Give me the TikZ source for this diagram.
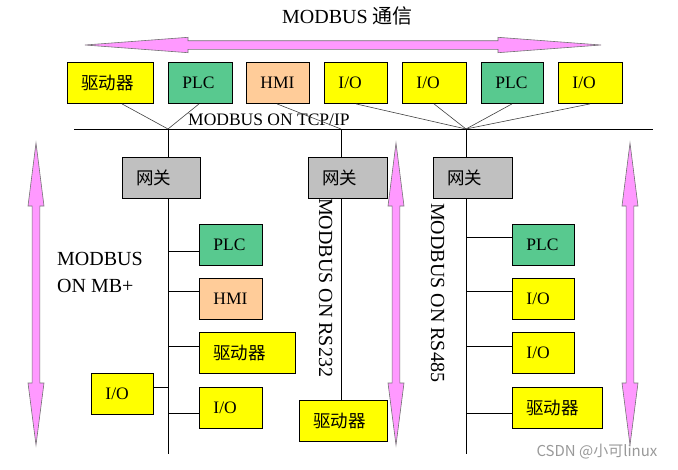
\documentclass[tikz,border=0pt]{standalone}
\usepackage{fontspec}
\setmainfont{Liberation Serif}
\newfontfamily\cjk{Noto Sans CJK SC}
\usetikzlibrary{calc}
\definecolor{ylw}{HTML}{FFFF00}
\definecolor{grn}{HTML}{58C98F}
\definecolor{pch}{HTML}{FFCC99}
\definecolor{gry}{HTML}{C0C0C0}
\definecolor{pnk}{HTML}{FF99FF}
\newcommand\myfs[1]{\fontsize{#1}{#1}\selectfont}
\begin{document}
\begin{tikzpicture}[x=1pt,y=-1pt,
  bx/.style={draw, line width=0.9pt, anchor=north west, inner xsep=14pt, inner ysep=0pt,
    minimum height=41pt, align=left, font=\myfs{17.5}},
  ln/.style={line width=0.9pt},
  diag/.style={line width=0.6pt, draw=black!75},
  arr/.style={fill=pnk, draw=black!55, line width=0.6pt, line join=miter},
  lbl/.style={inner sep=0pt, font=\myfs{20}}]
\useasboundingbox (0,0) rectangle (678,469);

% top double arrow
\draw[arr] (85,45) -- (188,37.3) -- (188,40.7) -- (498,40.7) -- (498,37.3) -- (601,45)
  -- (498,52.7) -- (498,49.3) -- (188,49.3) -- (188,52.7) -- cycle;
% vertical double arrows
\foreach \x in {36,396,630}{
  \draw[arr] (\x,143) -- (\x+8,206) -- (\x+3.9,206) -- (\x+3.9,383) -- (\x+8,383) -- (\x,445)
    -- (\x-8,383) -- (\x-3.9,383) -- (\x-3.9,206) -- (\x-8,206) -- cycle;
}

% labels
\node[lbl, anchor=base] (title) at (347.5,23.3) {MODBUS {\cjk 通信}};
\node[inner sep=0pt, font=\myfs{17.5}, anchor=base west] (tcp) at (188,125) {MODBUS ON TCP/IP};
\node[lbl, anchor=base west] (mb1) at (57,265) {MODBUS};
\node[lbl, anchor=base west] (mb2) at (57,292) {ON MB+};
\node[lbl, rotate=-90, anchor=base west] (rs232) at (319,198) {MODBUS ON RS232};
\node[lbl, rotate=-90, anchor=base west] (rs485) at (431,203) {MODBUS ON RS485};
\node[font=\myfs{15}\cjk, text=black!40] (wm) at (597,452) {CSDN @小可linux};

% bus
\coordinate (b0) at (74,129);
\coordinate (b1) at (653,129);
\coordinate (j1) at (168,129);
\coordinate (j2) at (341,129);
\coordinate (j3) at (466,129);
\coordinate (e1) at (168,454);
\coordinate (e3) at (466,454);
\draw[ln] (b0) -- (b1);

% top boxes
\node[bx, fill=ylw, text width=58pt] (t1) at (67,62) {\cjk 驱动器};
\node[bx, fill=grn, text width=36pt] (t2) at (168,62) {PLC};
\node[bx, fill=pch, text width=35pt] (t3) at (246,62) {HMI};
\node[bx, fill=ylw, text width=35pt] (t4) at (324,62) {I/O};
\node[bx, fill=ylw, text width=36pt] (t5) at (402,62) {I/O};
\node[bx, fill=grn, text width=34pt] (t6) at (481,62) {PLC};
\node[bx, fill=ylw, text width=36pt] (t7) at (558,62) {I/O};

\draw[diag] ($(t1.south west)+(55,0)$) -- (j1);
\draw[diag] ($(t2.south west)+(31,0)$) -- (j1);
\draw[diag] ($(t3.south west)+(31,0)$) -- (j2);
\draw[diag] ($(t4.south west)+(32,0)$) -- (j3);
\draw[diag] ($(t5.south west)+(32,0)$) -- (j3);
\draw[diag] ($(t6.south west)+(31,0)$) -- (j3);
\draw[diag] ($(t7.south west)+(32,0)$) -- (j3);

% gateways
\node[bx, fill=gry, text width=50pt] (g1) at (122,157) {\cjk 网关};
\node[bx, fill=gry, text width=51pt] (g2) at (308,157) {\cjk 网关};
\node[bx, fill=gry, text width=51pt] (g3) at (433,157) {\cjk 网关};

% left column
\node[bx, fill=grn, text width=35pt] (l1) at (199,224) {PLC};
\node[bx, fill=pch, text width=35pt] (l2) at (199,278) {HMI};
\node[bx, fill=ylw, text width=68pt] (l3) at (199,332) {\cjk 驱动器};
\node[bx, fill=ylw, text width=35pt] (l4) at (199,387) {I/O};
\node[bx, fill=ylw, text width=34pt] (l5) at (91,373) {I/O};

% middle
\node[bx, fill=ylw, text width=60pt] (m1) at (299,400) {\cjk 驱动器};

% right column
\node[bx, fill=grn, text width=34pt] (r1) at (512,224) {PLC};
\node[bx, fill=ylw, text width=34pt] (r2) at (512,278) {I/O};
\node[bx, fill=ylw, text width=34pt] (r3) at (512,332) {I/O};
\node[bx, fill=ylw, text width=62pt] (r4) at (512,387) {\cjk 驱动器};

% vertical buses
\draw[ln] (j1) -- (j1 |- g1.north);
\draw[ln] (j1 |- g1.south) -- (e1);
\draw[ln] (j2) -- (j2 |- g2.north);
\draw[ln] (j2 |- g2.south) -- (j2 |- m1.north);
\draw[ln] (j3) -- (j3 |- g3.north);
\draw[ln] (j3 |- g3.south) -- (e3);

% branches left
\draw[ln] (j1 |- 0,251) -- (l1.west |- 0,251);
\draw[ln] (j1 |- 0,291) -- (l2.west |- 0,291);
\draw[ln] (j1 |- 0,346) -- (l3.west |- 0,346);
\draw[ln] (j1 |- 0,413) -- (l4.west |- 0,413);
\draw[ln] (l5.east |- 0,387) -- (j1 |- 0,387);
% branches right
\draw[ln] (j3 |- 0,237) -- (r1.west |- 0,237);
\draw[ln] (j3 |- 0,291) -- (r2.west |- 0,291);
\draw[ln] (j3 |- 0,346) -- (r3.west |- 0,346);
\draw[ln] (j3 |- 0,413) -- (r4.west |- 0,413);
\end{tikzpicture}
\end{document}
